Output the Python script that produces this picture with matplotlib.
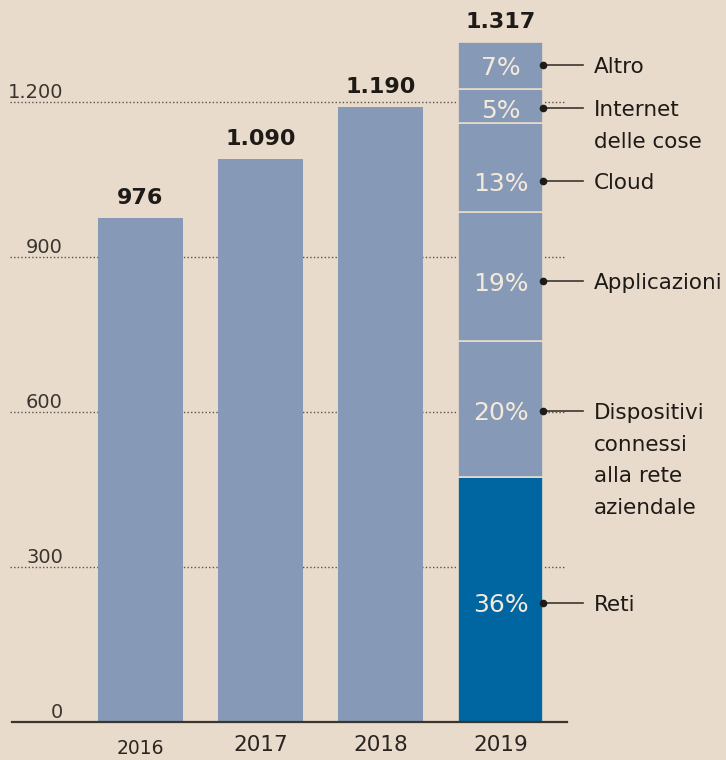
import matplotlib
matplotlib.use("Agg")
import matplotlib.pyplot as plt
from matplotlib.transforms import offset_copy

plt.rcParams['font.family'] = ['DejaVu Sans']

# ---- data ----
years = ["2016", "2017", "2018", "2019"]
totals = [976, 1090, 1190, 1317]
total_labels = ["976", "1.090", "1.190", "1.317"]
seg_names = ["Reti", "Dispositivi\nconnessi\nalla rete\naziendale", "Applicazioni",
             "Cloud", "Internet\ndelle cose", "Altro"]
seg_pct = [36, 20, 19, 13, 5, 7]
yticks = [0, 300, 600, 900, 1200]
ytick_labels = ["0", "300", "600", "900", "1.200"]

# ---- style ----
BG = "#e9dbcb"
BAR = "#8699b6"
DARK = "#0066a1"
TXT = "#1e1a17"
PCT_TXT = "#f5e9d9"
GRID = "#5a534d"

fig = plt.figure(figsize=(7.26, 7.6), dpi=100, facecolor=BG)
ax = fig.add_axes([10 / 726, 38 / 760, 557 / 726, 722 / 760])
ax.set_facecolor(BG)
ax.set_xlim(-1.0875, 3.554)
ax.set_ylim(0, 722 * 300 / 155)
ax.axis("off")

def off(dx=0, dy=0):
    return offset_copy(ax.transData, fig=fig, x=dx, y=dy, units="dots")

x = list(range(len(years)))
w = 85 / 120

# gridlines
for v in yticks[1:]:
    ax.axhline(v, xmin=0, xmax=555 / 557, ls=(0, (1, 1.6)), color=GRID, lw=1.0, zorder=0)
# baseline
ax.axhline(0, xmin=2 / 557, xmax=1, color="#3b3530", lw=1.6, zorder=3, clip_on=False)

# tick labels
for v, lab in zip(yticks, ytick_labels):
    ax.text(-0.646, v, lab, ha="right", va="baseline", fontsize=14, color="#3b3530",
            transform=off(0, 4))

# plain bars
ax.bar(x[:3], totals[:3], width=w, color=BAR, zorder=2)

# stacked 2019 bar
total19 = totals[3]
bottom = 0
seg_label_shift = [3, 2, 5, 14, 2, 0]  # px downward shift of labels from segment centre
LINE_STEP = 31.7
for i, (name, p) in enumerate(zip(seg_names, seg_pct)):
    h = total19 * p / 100
    ax.bar(x[3], h, bottom=bottom, width=w, color=DARK if i == 0 else BAR,
           edgecolor=BG, linewidth=1.2, zorder=2)
    yc = bottom + h / 2
    sh = seg_label_shift[i]
    ax.text(x[3], yc, f"{p}%", ha="center", va="baseline", fontsize=18, color=PCT_TXT,
            transform=off(0, -sh - 9.5), zorder=4)
    xr = x[3] + w / 2
    ax.plot([xr, 3.6875], [yc, yc], color="#3b3530", lw=1.2, transform=off(0, -sh),
            zorder=4, clip_on=False)
    ax.plot([xr], [yc], marker="o", ms=4.5, color="#1e1a17", transform=off(0, -sh),
            zorder=5, clip_on=False)
    for j, line in enumerate(name.split("\n")):
        ax.text(3.78, yc, line, ha="left", va="baseline", fontsize=15.5, color=TXT,
                transform=off(0, -sh - 8 - j * LINE_STEP), clip_on=False)
    bottom += h

# totals
for xi, t, lab in zip(x, totals, total_labels):
    ax.text(xi, t, lab, ha="center", va="baseline", fontsize=16, fontweight="bold",
            color=TXT, transform=off(0, 14))

# year labels
for xi, yr in zip(x, years):
    fs = 13.5 if yr == "2016" else 15.5
    dy = -26 if yr == "2016" else -23
    ax.text(xi, 0, yr, ha="center", va="center", fontsize=fs, color="#2a2520",
            transform=off(0, dy))

fig.savefig("out.png", dpi=100, facecolor=BG)
